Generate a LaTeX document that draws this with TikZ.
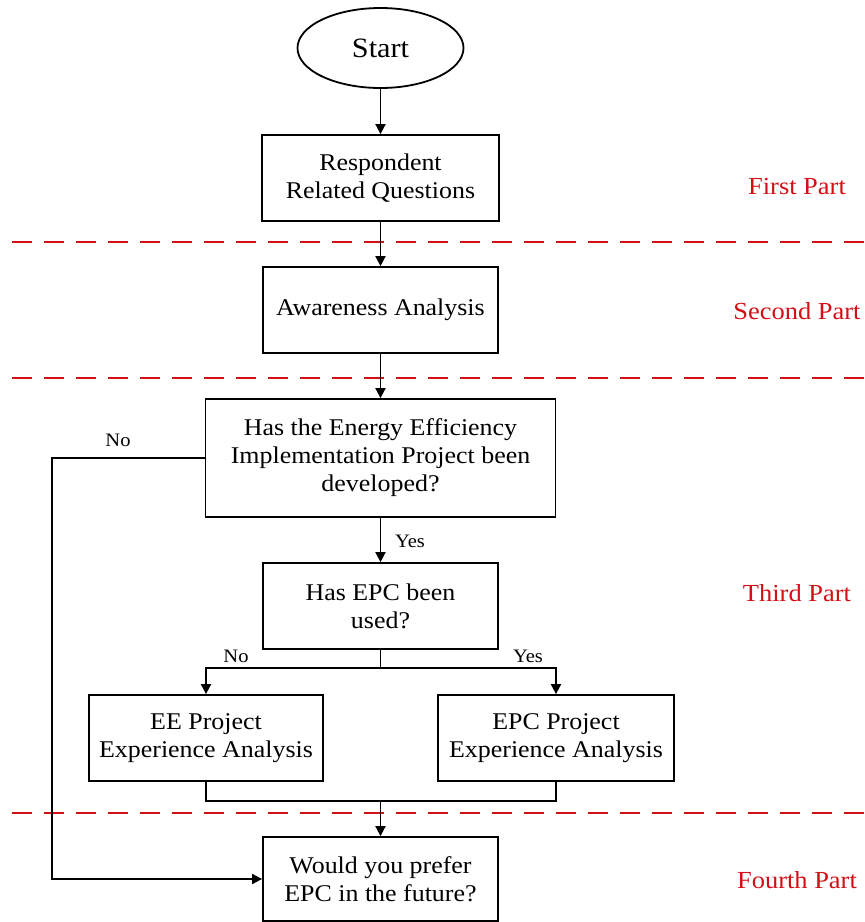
\documentclass[tikz,border=0pt]{standalone}
\usepackage{fontspec}
\setmainfont{Liberation Serif}[FakeStretch=1.08]
\usetikzlibrary{arrows.meta,shapes.geometric}
\definecolor{partred}{RGB}{210,16,22}
\begin{document}
\begin{tikzpicture}[x=1pt,y=-1pt,
  box/.style={draw,line width=1.8pt,inner sep=0pt,align=center,font=\fontsize{24}{28}\selectfont},
  arr/.style={line width=1.8pt,-{Triangle[length=10pt,width=10pt]}},
  ln/.style={line width=1.8pt},
  sep/.style={draw=partred,line width=2pt,dash pattern=on 20pt off 12pt},
  lbl/.style={font=\fontsize{19}{22}\selectfont,inner sep=0pt},
  plab/.style={text=partred,font=\fontsize{24.5}{28}\selectfont,inner sep=0pt}]
\useasboundingbox (0,0) rectangle (865,922);
\fill[white] (0,0) rectangle (865,922);
% separators
\draw[sep] (12,242) -- (865,242);
\draw[sep] (12,378) -- (865,378);
\draw[sep] (12,813) -- (865,813);
% nodes
\node[ellipse,draw,line width=1.8pt,minimum width=166pt,minimum height=80pt,inner sep=0pt,font=\fontsize{28}{32}\selectfont] (start) at (380.5,48) {Start};
\node[box,minimum width=237pt,minimum height=86pt] (rq) at (380.5,178) {Respondent\\Related Questions};
\node[box,minimum width=235pt,minimum height=86pt] (aw) at (380.5,310) {Awareness Analysis};
\node[box,minimum width=350pt,minimum height=118pt] (ee) at (380.5,458) {Has the Energy Efficiency\\Implementation Project been\\developed?};
\node[box,minimum width=235pt,minimum height=86pt] (epc) at (380.5,606) {Has EPC been\\used?};
\node[box,minimum width=234pt,minimum height=86pt] (eep) at (206,738) {EE Project\\Experience Analysis};
\node[box,minimum width=236pt,minimum height=86pt] (epcp) at (556,738) {EPC Project\\Experience Analysis};
\node[box,minimum width=235pt,minimum height=84pt] (fut) at (380.5,879) {Would you prefer\\EPC in the future?};
% part labels
\node[plab] (p1) at (797,187) {First Part};
\node[plab] (p2) at (797,311) {Second Part};
\node[plab] (p3) at (797,593) {Third Part};
\node[plab] (p4) at (797,880) {Fourth Part};
% connectors
\draw[arr] (start) -- (rq);
\draw[arr] (rq) -- (aw);
\draw[arr] (aw) -- (ee);
\draw[arr] (ee) -- (epc);
\node[lbl] (yes1) at (410,541) {Yes};
\coordinate (nocorner) at (52,458);
\draw[arr] (ee.west) -- (nocorner) |- (fut.west);
\node[lbl] (no1) at (118,440) {No};
\coordinate (split) at (380.5,668);
\draw[ln] (epc.south) -- (split);
\draw[arr] (split) -| (eep.north);
\draw[arr] (split) -| (epcp.north);
\node[lbl] (no2) at (236,656) {No};
\node[lbl] (yes2) at (528,656) {Yes};
\coordinate (merge) at (380.5,801);
\draw[ln] (eep.south) |- (merge) -| (epcp.south);
\draw[arr] (merge) -- (fut);
\end{tikzpicture}
\end{document}
